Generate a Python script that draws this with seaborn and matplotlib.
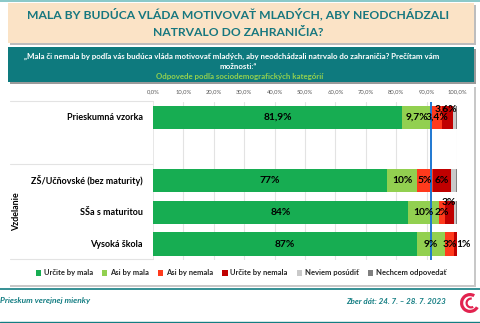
import matplotlib
matplotlib.use("Agg")
import matplotlib.pyplot as plt
import seaborn as sns
import pandas as pd
import numpy as np
from matplotlib.patches import Rectangle, Wedge, Patch
from matplotlib.lines import Line2D

# ---------------- data ----------------
categories = ["Prieskumná vzorka", "ZŠ/Učňovské (bez maturity)", "SŠa s maturitou", "Vysoká škola"]
row_order = ["Prieskumná vzorka", " ", "ZŠ/Učňovské (bez maturity)", "SŠa s maturitou", "Vysoká škola"]
series_names = ["Určite by mala", "Asi by mala", "Asi by nemala", "Určite by nemala",
                "Neviem posúdiť", "Nechcem odpovedať"]
urcite_mala = [81.9, 77, 84, 87]
asi_mala = [9.7, 10, 10, 9]
asi_nemala = [3.4, 5, 2, 3]
urcite_nemala = [3.6, 6, 3, 1]
neviem = [1.1, 1.6, 0.8, 0.0]
nechcem = [0.3, 0.4, 0.2, 0.0]
value_labels = [
    ["81,9%", "9,7%", "3,4%", "3,6%"],
    ["77%", "10%", "5%", "6%"],
    ["84%", "10%", "2%", "3%"],
    ["87%", "9%", "3%", "1%"],
]
tick_values = [0, 10, 20, 30, 40, 50, 60, 70, 80, 90, 100]
tick_labels = ["0,0%", "10,0%", "20,0%", "30,0%", "40,0%", "50,0%", "60,0%",
               "70,0%", "80,0%", "90,0%", "100,0%"]
ref_line = 91.6

colors = ["#17ad52", "#92d050", "#ff3a1c", "#c00000", "#c9c9c9", "#7f7f7f"]
TEAL = "#137d82"

series = [urcite_mala, asi_mala, asi_nemala, urcite_nemala, neviem, nechcem]
df = pd.DataFrame({"kat": categories})
for n, s in zip(series_names, series):
    df[n] = s
cum = df[series_names].cumsum(axis=1)

# ---------------- figure ----------------
sns.set_theme(style="white")
plt.rcParams["font.family"] = ["Lato", "DejaVu Sans"]

W, H = 480, 323
fig = plt.figure(figsize=(4.8, 3.23), dpi=100)
fig.patch.set_facecolor("white")

def fx(x):
    return x / W

def fy(y):
    return 1 - y / H

def frect(x0, y0, x1, y1, **kw):
    fig.add_artist(Rectangle((fx(x0), fy(y1)), fx(x1) - fx(x0), fy(y0) - fy(y1),
                             transform=fig.transFigure, zorder=-5, **kw))

def fline(x0, y0, x1, y1, **kw):
    fig.add_artist(Line2D([fx(x0), fx(x1)], [fy(y0), fy(y1)], transform=fig.transFigure,
                          zorder=-4, **kw))

# top thin teal line
frect(0, 0, 480, 1.5, color="#8cc9c9", lw=0)
# title box (shadow + peach)
frect(10, 5, 476, 45, color="#bdbdbd", lw=0)
frect(8, 3, 474, 43, color="#fbe3c6", lw=0)
fig.text(fx(238), fy(14.5), "MALA BY BUDÚCA VLÁDA MOTIVOVAŤ MLADÝCH, ABY NEODCHÁDZALI",
         ha="center", va="center", fontsize=8.7, fontweight="bold", color="#17777f")
fig.text(fx(238), fy(32), "NATRVALO DO ZAHRANIČIA?",
         ha="center", va="center", fontsize=8.7, fontweight="bold", color="#17777f")
# teal question box
frect(10, 49, 476, 84, color="#9a9a9a", lw=0)
frect(8, 47, 474, 82, color="#0e7a7e", lw=0)
fig.text(fx(232), fy(56.5),
         "„Mala či nemala by podľa vás budúca vláda motivovať mladých, aby neodchádzali natrvalo do zahraničia? Prečítam vám",
         ha="center", va="center", fontsize=5.7, fontweight="bold", color="white")
fig.text(fx(238), fy(66.5), "možnosti:“", ha="center", va="center", fontsize=5.7,
         fontweight="bold", color="white")
fig.text(fx(240), fy(76), "Odpovede podľa sociodemografických kategórií", ha="center",
         va="center", fontsize=5.7, fontweight="bold", color="#92d050")
# white chart panel with shadow
frect(10, 87, 476, 287, color="#c8c8c8", lw=0)
frect(8, 85, 474, 285, color="white", lw=0)

# label column lines
for yy in (101, 164, 259):
    fline(10, yy, 153, yy, color="#e3e3e3", lw=0.8)
fline(153, 101, 153, 259, color="#e3e3e3", lw=0.6)

# ---------------- axes ----------------
ax_l, ax_r = 153, 457
ax_t, ax_b = 101.5, 259.9
ax = fig.add_axes([fx(ax_l), fy(ax_b), fx(ax_r) - fx(ax_l), fy(ax_t) - fy(ax_b)])
ax.set_facecolor("none")
ax.set_zorder(5)

for i in range(len(series_names) - 1, -1, -1):
    d = pd.DataFrame({"kat": categories, "val": cum[series_names[i]].values})
    sns.barplot(data=d, x="val", y="kat", order=row_order, orient="h", color=colors[i],
                saturation=1, width=0.73, linewidth=0, ax=ax, zorder=2)

ax.set_xlim(0, 100)
ax.set_ylim(4.5, -0.5)
ax.set_xlabel("")
ax.set_ylabel("")
ax.xaxis.tick_top()
ax.set_xticks(tick_values)
ax.set_xticklabels(tick_labels, fontsize=4.2, color="#595959")
ax.tick_params(axis="x", length=0, pad=5)
ax.set_yticks([])
for sp in ax.spines.values():
    sp.set_visible(False)
for t in tick_values[1:]:
    ax.axvline(t, color="#e3e3e3", lw=0.8, zorder=0)
ax.axvline(ref_line, color="#1f78d1", lw=1.4, zorder=5)

# row labels
ypos = {c: row_order.index(c) for c in categories}
for c in categories:
    ax.text(-3.3, ypos[c], c, ha="right", va="center", fontsize=6.5,
            fontweight="bold", color="black", clip_on=False)
fig.text(fx(17), fy(212), "Vzdelanie", rotation=90, ha="center", va="center",
         fontsize=6.4, fontweight="bold", color="black")

# value labels
for r, c in enumerate(categories):
    y = ypos[c]
    starts = [0] + list(cum.iloc[r, :3].values)
    vals = [series[k][r] for k in range(4)]
    for k in range(4):
        xc = starts[k] + vals[k] / 2
        dy = 0
        if r == 0 and k == 3:
            xc, dy = 96.5, -0.27
        if r == 2 and k == 3:
            xc, dy = 97.2, -0.3
        if r == 3 and k == 3:
            xc = 102.0
        ax.text(xc, y + dy, value_labels[r][k], ha="center", va="center", fontsize=7.4,
                fontweight="bold", color="black", zorder=6, clip_on=False)

# legend
handles = [Patch(facecolor=col, edgecolor="none") for col in colors]
leg = fig.legend(handles, series_names, loc="center", bbox_to_anchor=(fx(241), fy(273)),
                 ncol=6, frameon=False, fontsize=5.5, handlelength=0.7, handleheight=0.7,
                 handletextpad=0.35, columnspacing=1.2, borderaxespad=0)
for t in leg.get_texts():
    t.set_fontweight("bold")

# footer
fline(0, 289, 480, 289, color=TEAL, lw=1.2)
fline(0, 321.5, 480, 321.5, color=TEAL, lw=1.0)
fig.text(fx(0), fy(301), "Prieskum verejnej mienky", ha="left", va="center", fontsize=6.0,
         fontweight="bold", style="italic", color=TEAL)
fig.text(fx(446), fy(301), "Zber dát: 24. 7. – 28. 7. 2023", ha="right", va="center",
         fontsize=5.8, fontweight="bold", style="italic", color=TEAL)

# logo
lax = fig.add_axes([fx(458), fy(314), fx(482) - fx(458), fy(292) - fy(314)])
lax.set_xlim(-1.1, 1.1)
lax.set_ylim(-1.1, 1.1)
lax.set_aspect("equal")
lax.axis("off")
lax.set_zorder(5)
lax.add_patch(Wedge((0, 0), 1.0, 60, 330, width=0.32, color="#e2234f", lw=0))
lax.add_patch(Wedge((0.1, 0), 0.55, 80, 300, width=0.22, color="#e2234f", lw=0))

fig.savefig("out.png", dpi=100)
